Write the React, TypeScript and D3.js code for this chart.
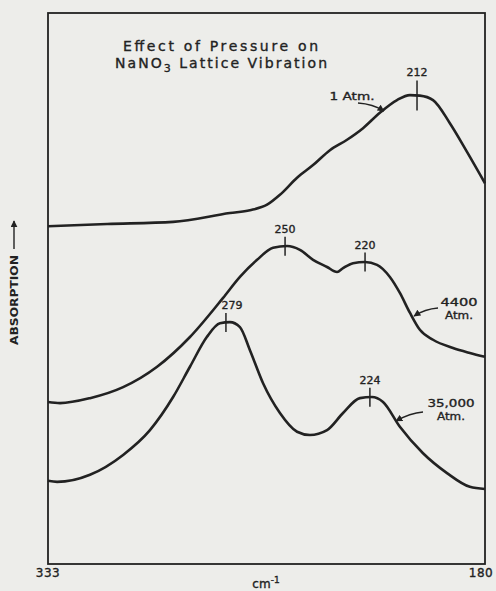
import * as d3 from 'd3';
import React, { useEffect, useRef } from 'react';

// wavenumber (cm-1), absorption (arbitrary, 0 = bottom of frame, 100 = top)
const oneAtm: [number, number][] = [
  [333, 61.3], [312.3, 61.7], [289.2, 62.1], [269.3, 63.7], [262.3, 64.2],
  [256.3, 65.2], [251.8, 67.0], [245.8, 70.1], [240.2, 72.4], [234.3, 75.1],
  [228.3, 77.0], [222.7, 79.1], [216.8, 81.9], [210.8, 84.2], [206.3, 85.1],
  [202.8, 85.0], [198.2, 84.2], [192.3, 80.0], [186.3, 74.8], [180, 69.1],
];

const atm4400: [number, number][] = [
  [333, 29.4], [328.8, 29.2], [318.3, 30.1], [306.7, 32.1], [294.8, 35.8],
  [283.3, 41.2], [271.7, 48.3], [265.8, 52.1], [259.8, 55.2], [254.2, 57.4],
  [249.3, 57.7], [244.8, 57.0], [240.2, 55.2], [235.3, 53.9], [231.8, 53.0],
  [229.7, 53.7], [226.2, 54.6], [222.0, 54.8], [217.8, 54.3], [213.3, 52.1],
  [209.8, 49.2], [206.3, 45.6], [202.8, 42.5], [198.2, 40.7], [191.2, 39.2],
  [185.3, 38.3], [180, 37.6],
];

const atm35000: [number, number][] = [
  [333, 15.1], [329.8, 14.9], [318.3, 16.2], [306.7, 19.8], [297.3, 24.3],
  [289.2, 30.3], [283.3, 35.8], [277.4, 41.2], [272.8, 43.7], [269.3, 43.9],
  [265.8, 43.0], [262.3, 38.8], [257.7, 32.8], [251.8, 27.4], [245.8, 24.0],
  [241.3, 23.4], [235.3, 24.3], [229.7, 27.4], [223.8, 30.1], [219.6, 30.3],
  [215.7, 29.4], [209.8, 24.9], [201.7, 20.1], [193.3, 16.5], [185.3, 14.0],
  [180, 13.6],
];

const seriesList = [oneAtm, atm4400, atm35000];
const seriesNames = [['1 Atm.'], ['4400', 'Atm.'], ['35,000', 'Atm.']];

const peakLabels = ['212', '250', '220', '279', '224'];
const peakPositions = [203.8, 250.0, 222.0, 270.7, 220.3];
const peakSeries = [0, 1, 1, 2, 2];

const xTicks = [333, 180];

const W = 496;
const H = 591;
const INK = '#222';
const FONT = '"DejaVu Sans", sans-serif';

// label placement (pixels): text centre, baselines, arrow from / via / to
const labelLayout = [
  { x: 352, ys: [100], widths: [45], arrow: [[358, 103], [373, 104], [384, 111]] },
  { x: 459, ys: [306, 319], widths: [37, 28], arrow: [[438, 308], [425, 309], [414, 316]] },
  { x: 451, ys: [407, 420], widths: [47, 28], arrow: [[423, 412], [410, 413], [396, 421]] },
];

function valueAt(data: [number, number][], nu: number) {
  for (let i = 0; i < data.length - 1; i++) {
    const [x0, y0] = data[i];
    const [x1, y1] = data[i + 1];
    if (nu <= x0 && nu >= x1) return y0 + ((nu - x0) / (x1 - x0)) * (y1 - y0);
  }
  return data[data.length - 1][1];
}

const App: React.FC = () => {
  const svgRef = useRef<SVGSVGElement>(null);

  useEffect(() => {
    if (!svgRef.current) return;
    const svg = d3.select(svgRef.current);
    svg.selectAll('*').remove();

    const frame = { left: 48, right: 485, top: 13, bottom: 564 };

    const x = d3.scaleLinear().domain([333, 180]).range([frame.left, frame.right]);
    const y = d3.scaleLinear().domain([0, 100]).range([frame.bottom, frame.top]);

    svg.append('rect')
      .attr('width', W)
      .attr('height', H)
      .attr('fill', '#ededea');

    svg.append('defs').append('marker')
      .attr('id', 'head')
      .attr('viewBox', '0 0 10 10')
      .attr('refX', 9)
      .attr('refY', 5)
      .attr('markerWidth', 7)
      .attr('markerHeight', 7)
      .attr('markerUnits', 'userSpaceOnUse')
      .attr('orient', 'auto')
      .append('path')
      .attr('d', 'M0,0 L10,5 L0,10 Z')
      .attr('fill', INK);

    // frame
    svg.append('rect')
      .attr('x', frame.left)
      .attr('y', frame.top)
      .attr('width', frame.right - frame.left)
      .attr('height', frame.bottom - frame.top)
      .attr('fill', 'none')
      .attr('stroke', INK)
      .attr('stroke-width', 1.8);

    // lettering looks pen-drawn, so give text a thin outline
    const ink = (sel: d3.Selection<SVGTextElement, any, any, any>, size: string) =>
      sel.attr('fill', INK)
        .attr('stroke', INK)
        .attr('stroke-width', 0.35)
        .style('font-family', FONT)
        .style('font-size', size);

    // title
    const t1 = svg.append('text')
      .attr('x', 123)
      .attr('y', 51)
      .attr('textLength', 195)
      .attr('lengthAdjust', 'spacing')
      .text('Effect of Pressure on');
    ink(t1, '14px');
    const t2 = svg.append('text')
      .attr('x', 115)
      .attr('y', 68)
      .attr('textLength', 212)
      .attr('lengthAdjust', 'spacing');
    ink(t2, '14px');
    t2.append('tspan').text('NaNO');
    t2.append('tspan').attr('dy', 4).style('font-size', '11px').text('3');
    t2.append('tspan').attr('dy', -4).text(' Lattice Vibration');

    // spectra
    const line = d3.line<[number, number]>()
      .x(d => x(d[0]))
      .y(d => y(d[1]))
      .curve(d3.curveMonotoneX);

    svg.selectAll('.spectrum')
      .data(seriesList)
      .join('path')
      .attr('class', 'spectrum')
      .attr('d', d => line(d))
      .attr('fill', 'none')
      .attr('stroke', INK)
      .attr('stroke-width', 2.6)
      .attr('stroke-linejoin', 'round');

    // peak markers
    peakLabels.forEach((lab, i) => {
      const px = x(peakPositions[i]);
      const py = y(valueAt(seriesList[peakSeries[i]], peakPositions[i]));
      const half = i === 0 ? 15 : 9.5;
      svg.append('line')
        .attr('x1', px).attr('x2', px)
        .attr('y1', py - half).attr('y2', py + half)
        .attr('stroke', INK)
        .attr('stroke-width', 1.5);
      const t = svg.append('text')
        .attr('x', px + (i === 3 ? 6 : 0))
        .attr('y', py - half - 4)
        .attr('text-anchor', 'middle')
        .text(lab);
      ink(t, '11px');
    });

    // series labels and arrows
    seriesNames.forEach((lines, i) => {
      const L = labelLayout[i];
      lines.forEach((s, j) => {
        const t = svg.append('text')
          .attr('x', L.x)
          .attr('y', L.ys[j])
          .attr('text-anchor', 'middle')
          .attr('textLength', L.widths[j])
          .attr('lengthAdjust', 'spacingAndGlyphs')
          .text(s);
        ink(t, '11px');
      });
      const [a, b, c] = L.arrow;
      svg.append('path')
        .attr('d', `M${a[0]},${a[1]} Q${b[0]},${b[1]} ${c[0]},${c[1]}`)
        .attr('fill', 'none')
        .attr('stroke', INK)
        .attr('stroke-width', 1.3)
        .attr('marker-end', 'url(#head)');
    });

    // x axis end labels
    xTicks.forEach(d => {
      const t = svg.append('text')
        .attr('x', x(d) + (d === 180 ? -4 : 0))
        .attr('y', 577)
        .attr('text-anchor', 'middle')
        .style('letter-spacing', '0.5px')
        .text(String(d));
      ink(t, '12px');
    });

    const unit = svg.append('text')
      .attr('x', 266)
      .attr('y', 588)
      .attr('text-anchor', 'middle');
    ink(unit, '12px');
    unit.append('tspan').text('cm');
    unit.append('tspan').attr('dy', -5).style('font-size', '9px').text('-1');

    // y axis label
    svg.append('text')
      .attr('transform', 'translate(18, 345) rotate(-90)')
      .attr('textLength', 90)
      .attr('lengthAdjust', 'spacingAndGlyphs')
      .attr('fill', INK)
      .style('font-family', FONT)
      .style('font-size', '11px')
      .style('font-weight', 'bold')
      .text('ABSORPTION');
    svg.append('line')
      .attr('x1', 14).attr('x2', 14)
      .attr('y1', 249).attr('y2', 221)
      .attr('stroke', INK)
      .attr('stroke-width', 1.4)
      .attr('marker-end', 'url(#head)');
  }, []);

  return (
    <div style={{ position: 'absolute', left: 0, top: 0 }}>
      <svg ref={svgRef} width={W} height={H} style={{ display: 'block' }} />
    </div>
  );
};

export default App;
